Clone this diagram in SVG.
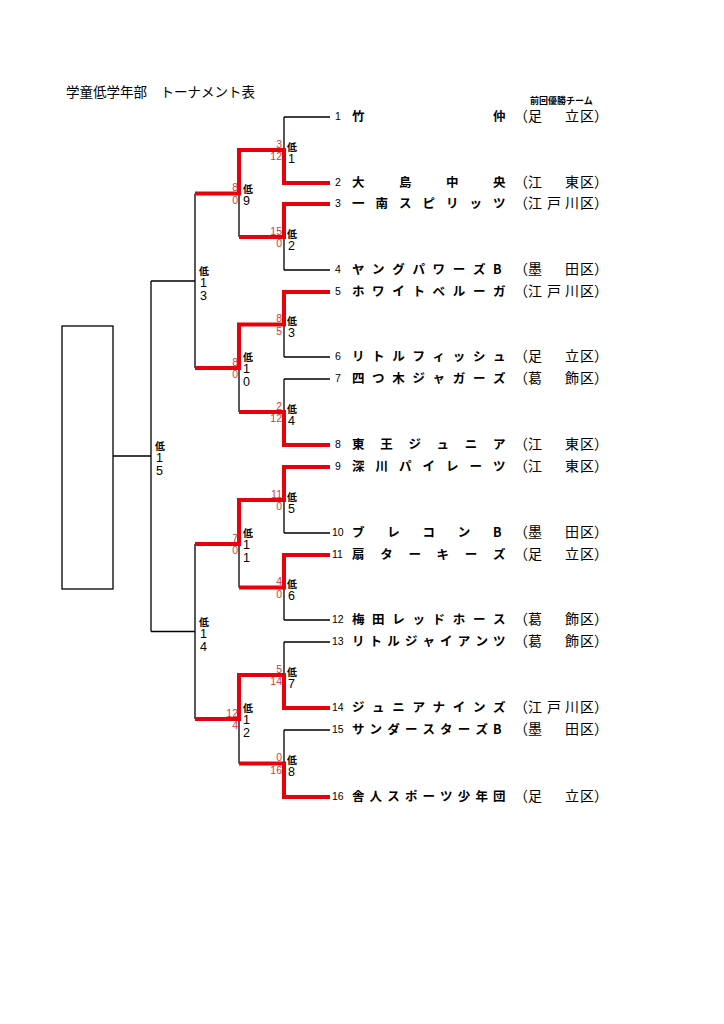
<svg xmlns="http://www.w3.org/2000/svg" width="724" height="1024" viewBox="0 0 724 1024">
<style>
.blk{stroke:#000;stroke-width:1.3;fill:none}
.red{stroke:#e8000b;stroke-width:4;fill:none;stroke-linejoin:miter;stroke-linecap:butt}
.num{font-family:"Liberation Sans",Arial,sans-serif;font-size:10.5px;fill:#000}
.name{font-family:"Noto Sans CJK JP",sans-serif;font-weight:bold;font-size:12.5px;fill:#000}
.dist{font-family:"Noto Sans CJK JP",sans-serif;font-size:14px;fill:#000}
.lo{font-family:"Noto Sans CJK JP",sans-serif;font-weight:bold;font-size:10px;fill:#000}
.rd{font-family:"Liberation Sans",Arial,sans-serif;font-size:12.5px;fill:#000}
.sc{font-family:"Liberation Sans",Arial,sans-serif;font-size:10.5px;fill:#d9363e;text-anchor:end}
.title{font-family:"Noto Sans CJK JP",sans-serif;font-size:13.5px;fill:#000}
.prev{font-family:"Noto Sans CJK JP",sans-serif;font-weight:bold;font-size:9px;fill:#000}
</style>
<rect width="724" height="1024" fill="#fff"/>
<g id="title"><text class="title" x="66" y="97">学童低学年部　トーナメント表</text></g>
<g id="prev-champion-label"><text class="prev" x="530" y="104">前回優勝チーム</text></g>

<g id="connectors">
  <g id="black-lines" class="blk">
    <path d="M284,117H330M284,183H330M284,204H330M284,270H330M284,292H330M284,357H330M284,379H330M284,445H330M284,467H330M284,533H330M284,555H330M284,620H330M284,642H330M284,708H330M284,730H330M284,797H330"/>
    <path d="M284,117V183M284,204V270M284,292V357M284,379V445M284,467V533M284,555V620M284,642V708M284,730V797"/>
    <path d="M239,150H284M239,237H284M239,324.5H284M239,412H284M239,500H284M239,587.5H284M239,675H284M239,763.5H284"/>
    <path d="M239,150V237M239,324.5V412M239,500V587.5M239,675V763.5"/>
    <path d="M195,193.5H239M195,368H239M195,544H239M195,719H239"/>
    <path d="M195,193.5V368M195,544V719"/>
    <path d="M151,281H195M151,631.5H195M151,281V631.5M113,456H151"/>
  </g>
  <g id="red-lines" class="red">
    <path d="M330,183H284V150H239V193.5H195"/>
    <path d="M330,204H284V237H239"/>
    <path d="M330,292H284V324.5H239V368H195"/>
    <path d="M330,445H284V412H239"/>
    <path d="M330,467H284V500H239V544H195"/>
    <path d="M330,555H284V587.5H239"/>
    <path d="M330,708H284V675H239V719H195"/>
    <path d="M330,797H284V763.5H239"/>
  </g>
</g>

<g id="final-box"><rect x="62" y="326" width="51" height="263" fill="none" stroke="#000" stroke-width="1.3"/></g>

<g id="team1"><text class="num" x="335" y="119.5">1</text><text class="name" x="352 493" y="120.5">竹仲</text><text class="dist" x="514 528 565 580 594" y="121">（足立区）</text></g>
<g id="team2"><text class="num" x="335" y="185.5">2</text><text class="name" x="352 399 446 493" y="186.5">大島中央</text><text class="dist" x="514 528 565 580 594" y="187">（江東区）</text></g>
<g id="team3"><text class="num" x="335" y="206.5">3</text><text class="name" x="352 375.5 399 422.5 446 469.5 493" y="207.5">一南スピリッツ</text><text class="dist" x="514 528 547 565 580 594" y="208">（江戸川区）</text></g>
<g id="team4"><text class="num" x="335" y="272.5">4</text><text class="name" x="352 372.1 392.3 412.4 432.6 452.7 472.9 493" y="273.5">ヤングパワーズB</text><text class="dist" x="514 528 565 580 594" y="274">（墨田区）</text></g>
<g id="team5"><text class="num" x="335" y="294.5">5</text><text class="name" x="352 372.1 392.3 412.4 432.6 452.7 472.9 493" y="295.5">ホワイトベルーガ</text><text class="dist" x="514 528 547 565 580 594" y="296">（江戸川区）</text></g>
<g id="team6"><text class="num" x="335" y="359.5">6</text><text class="name" x="352 372.1 392.3 412.4 432.6 452.7 472.9 493" y="360.5">リトルフィッシュ</text><text class="dist" x="514 528 565 580 594" y="361">（足立区）</text></g>
<g id="team7"><text class="num" x="335" y="381.5">7</text><text class="name" x="352 372.1 392.3 412.4 432.6 452.7 472.9 493" y="382.5">四つ木ジャガーズ</text><text class="dist" x="514 528 565 580 594" y="383">（葛飾区）</text></g>
<g id="team8"><text class="num" x="335" y="447.5">8</text><text class="name" x="352 380.2 408.4 436.6 464.8 493" y="448.5">東王ジュニア</text><text class="dist" x="514 528 565 580 594" y="449">（江東区）</text></g>
<g id="team9"><text class="num" x="335" y="469.5">9</text><text class="name" x="352 375.5 399 422.5 446 469.5 493" y="470.5">深川パイレーツ</text><text class="dist" x="514 528 565 580 594" y="471">（江東区）</text></g>
<g id="team10"><text class="num" x="332" y="535.5">10</text><text class="name" x="352 387.25 422.5 457.75 493" y="536.5">ブレコンB</text><text class="dist" x="514 528 565 580 594" y="537">（墨田区）</text></g>
<g id="team11"><text class="num" x="332" y="557.5">11</text><text class="name" x="352 380.2 408.4 436.6 464.8 493" y="558.5">扇ターキーズ</text><text class="dist" x="514 528 565 580 594" y="559">（足立区）</text></g>
<g id="team12"><text class="num" x="332" y="622.5">12</text><text class="name" x="352 372.1 392.3 412.4 432.6 452.7 472.9 493" y="623.5">梅田レッドホース</text><text class="dist" x="514 528 565 580 594" y="624">（葛飾区）</text></g>
<g id="team13"><text class="num" x="332" y="644.5">13</text><text class="name" x="352 369.6 387.3 404.9 422.5 440.1 457.8 475.4 493" y="645.5">リトルジャイアンツ</text><text class="dist" x="514 528 565 580 594" y="646">（葛飾区）</text></g>
<g id="team14"><text class="num" x="332" y="710.5">14</text><text class="name" x="352 372.1 392.3 412.4 432.6 452.7 472.9 493" y="711.5">ジュニアナインズ</text><text class="dist" x="514 528 547 565 580 594" y="712">（江戸川区）</text></g>
<g id="team15"><text class="num" x="332" y="732.5">15</text><text class="name" x="352 369.6 387.3 404.9 422.5 440.1 457.8 475.4 493" y="733.5">サンダースターズB</text><text class="dist" x="514 528 565 580 594" y="734">（墨田区）</text></g>
<g id="team16"><text class="num" x="332" y="799.5">16</text><text class="name" x="352 369.6 387.3 404.9 422.5 440.1 457.8 475.4 493" y="800.5">舎人スポーツ少年団</text><text class="dist" x="514 528 565 580 594" y="801">（足立区）</text></g>

<g id="match1"><text class="sc" x="282" y="147.5">3</text><text class="sc" x="282" y="160">12</text><text class="rd"><tspan class="lo" x="287" y="150.5">低</tspan><tspan x="288" y="162.5">1</tspan></text></g>
<g id="match2"><text class="sc" x="282" y="234.5">15</text><text class="sc" x="282" y="247">0</text><text class="rd"><tspan class="lo" x="287" y="237.5">低</tspan><tspan x="288" y="249.5">2</tspan></text></g>
<g id="match3"><text class="sc" x="282" y="322">8</text><text class="sc" x="282" y="334.5">5</text><text class="rd"><tspan class="lo" x="287" y="325">低</tspan><tspan x="288" y="337">3</tspan></text></g>
<g id="match4"><text class="sc" x="282" y="409.5">2</text><text class="sc" x="282" y="422">12</text><text class="rd"><tspan class="lo" x="287" y="412.5">低</tspan><tspan x="288" y="424.5">4</tspan></text></g>
<g id="match5"><text class="sc" x="282" y="497.5">11</text><text class="sc" x="282" y="510">0</text><text class="rd"><tspan class="lo" x="287" y="500.5">低</tspan><tspan x="288" y="512.5">5</tspan></text></g>
<g id="match6"><text class="sc" x="282" y="585">4</text><text class="sc" x="282" y="597.5">0</text><text class="rd"><tspan class="lo" x="287" y="588">低</tspan><tspan x="288" y="600">6</tspan></text></g>
<g id="match7"><text class="sc" x="282" y="672.5">5</text><text class="sc" x="282" y="685">14</text><text class="rd"><tspan class="lo" x="287" y="675.5">低</tspan><tspan x="288" y="687.5">7</tspan></text></g>
<g id="match8"><text class="sc" x="282" y="761">0</text><text class="sc" x="282" y="773.5">16</text><text class="rd"><tspan class="lo" x="287" y="764">低</tspan><tspan x="288" y="776">8</tspan></text></g>

<g id="match9"><text class="sc" x="238" y="191">8</text><text class="sc" x="238" y="203.5">0</text><text class="rd"><tspan class="lo" x="243" y="193">低</tspan><tspan x="243" y="205">9</tspan></text></g>
<g id="match10"><text class="sc" x="238" y="365.5">8</text><text class="sc" x="238" y="378">0</text><text class="rd"><tspan class="lo" x="243" y="361">低</tspan><tspan x="243" y="373">1</tspan><tspan x="243" y="386">0</tspan></text></g>
<g id="match11"><text class="sc" x="238" y="541.5">7</text><text class="sc" x="238" y="554">0</text><text class="rd"><tspan class="lo" x="243" y="537">低</tspan><tspan x="243" y="549">1</tspan><tspan x="243" y="562">1</tspan></text></g>
<g id="match12"><text class="sc" x="238" y="716.5">12</text><text class="sc" x="238" y="729">4</text><text class="rd"><tspan class="lo" x="243" y="712">低</tspan><tspan x="243" y="724">1</tspan><tspan x="243" y="737">2</tspan></text></g>

<g id="match13"><text class="rd"><tspan class="lo" x="199" y="275">低</tspan><tspan x="200" y="287">1</tspan><tspan x="200" y="300">3</tspan></text></g>
<g id="match14"><text class="rd"><tspan class="lo" x="199" y="625.5">低</tspan><tspan x="200" y="637.5">1</tspan><tspan x="200" y="650.5">4</tspan></text></g>
<g id="match15"><text class="rd"><tspan class="lo" x="155" y="450">低</tspan><tspan x="156" y="462">1</tspan><tspan x="156" y="475">5</tspan></text></g>
</svg>
